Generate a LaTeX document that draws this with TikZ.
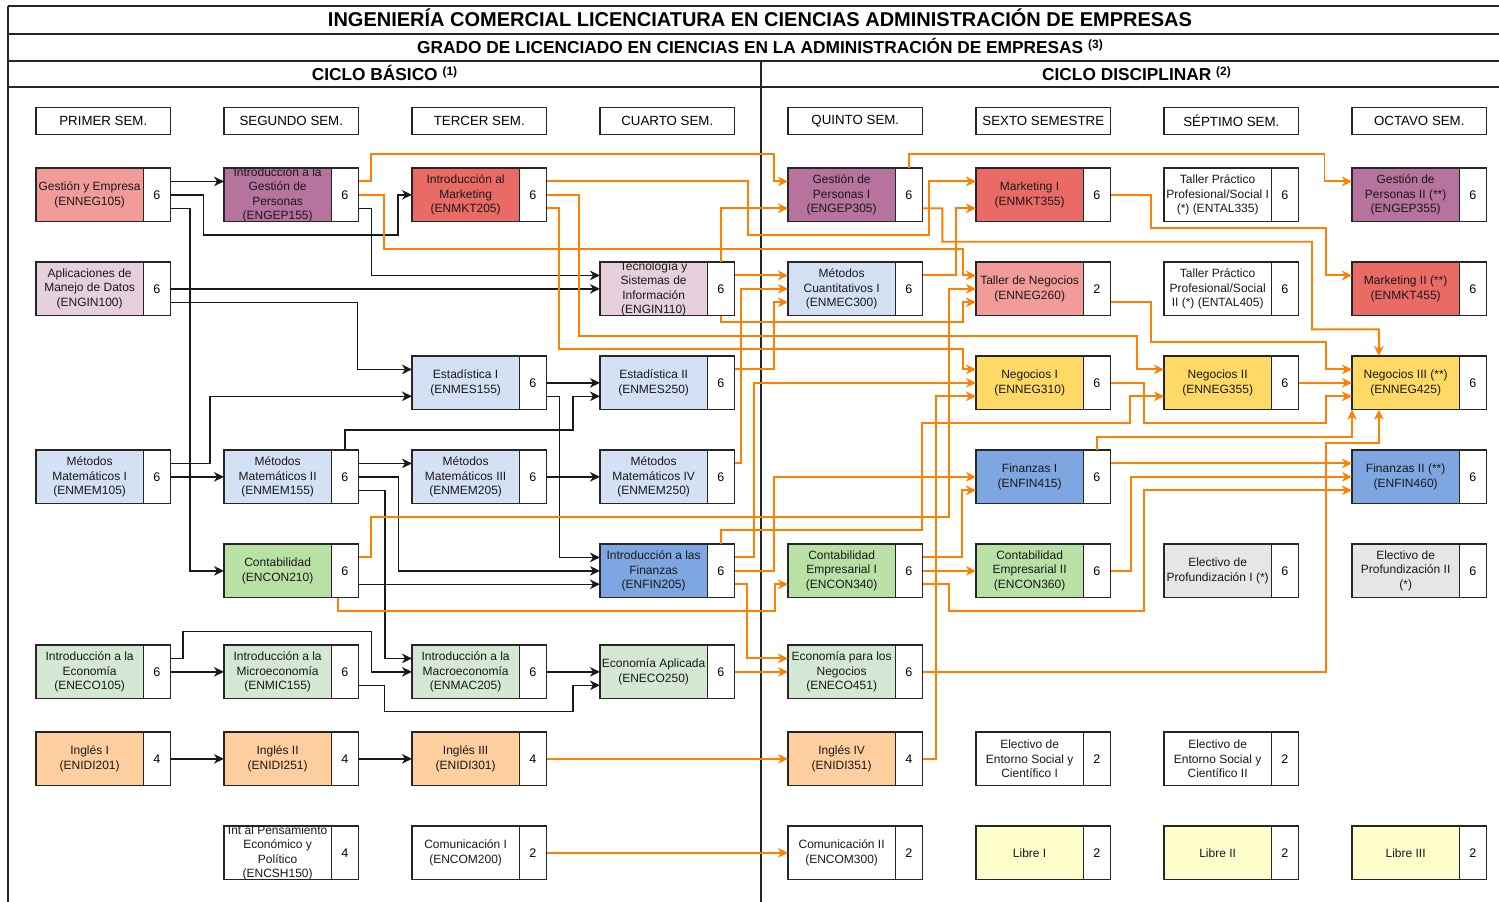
\documentclass[tikz,border=0pt]{standalone}
\usepackage{fontspec}
\setmainfont{Liberation Sans}
\usetikzlibrary{arrows.meta}
\definecolor{cNEG}{HTML}{F19C99}
\definecolor{cGEP}{HTML}{B5739D}
\definecolor{cMKT}{HTML}{EA6B66}
\definecolor{cGIN}{HTML}{E6D0DE}
\definecolor{cMAT}{HTML}{D4E1F5}
\definecolor{cFIN}{HTML}{7EA6E0}
\definecolor{cCON}{HTML}{B9E0A5}
\definecolor{cECO}{HTML}{D5E8D4}
\definecolor{cIDI}{HTML}{FFCE9F}
\definecolor{cNGY}{HTML}{FFD966}
\definecolor{cLIB}{HTML}{FFFFCC}
\definecolor{cELE}{HTML}{E6E6E6}
\definecolor{orgc}{HTML}{FF8000}
\definecolor{lnc}{HTML}{262626}
\tikzset{
  cbox/.style={draw=lnc, line width=1.3pt, minimum width=107.3pt, minimum height=53.7pt, inner sep=0pt, outer sep=0pt, anchor=north west},
  cred/.style={draw=lnc, line width=1.3pt, fill=white, minimum width=27.3pt, minimum height=53.7pt, inner sep=0pt, outer sep=0pt, anchor=north west, font=\fontsize{12.5}{14}\selectfont},
  ctxt/.style={align=center, inner sep=0pt, font=\fontsize{12}{14.3}\selectfont, text=black!90},
  semhead/.style={draw=lnc, line width=1.3pt, minimum width=134.6pt, minimum height=27.4pt, inner sep=0pt, outer sep=0pt, anchor=north west, font=\fontsize{13.3}{15}\selectfont},
  frame/.style={draw=lnc, line width=1.7pt},
  blk/.style={draw=black!90, line width=1.5pt, -{Stealth[length=10pt,width=9.5pt,inset=3pt]}},
  org/.style={draw=orgc, line width=1.9pt, -{Stealth[length=10pt,width=9.5pt,inset=3pt]}},
  ttl/.style={anchor=base, inner sep=0pt, font=\bfseries},
}
\newcommand\crs[6]{%
  \node[cbox, fill=#4] (#1) at (#2,#3) {};
  \node[ctxt] (#1t) at (#1.center) {#5};
  \node[cred] (#1c) at (#1.north east) {#6};
  \coordinate (#1oU) at ([yshift=13.43pt]#1c.east);
  \coordinate (#1oD) at ([yshift=-13.43pt]#1c.east);
  \coordinate (#1iU) at ([yshift=13.43pt]#1.west);
  \coordinate (#1iD) at ([yshift=-13.43pt]#1.west);
}
\newcommand\supr[1]{\raisebox{5pt}{\fontsize{12}{12}\selectfont (#1)}}
\begin{document}
\begin{tikzpicture}[x=1pt, y=-1pt]
\useasboundingbox (0,0) rectangle (1499,902);
\clip (0,0) rectangle (1499,902);
\fill[white] (0,0) rectangle (1499,902);
% frame
\draw[frame] (8,6) -- (1512,6);
\draw[frame] (8,33.7) -- (1512,33.7);
\draw[frame] (8,60.7) -- (1512,60.7);
\draw[frame] (8,87.3) -- (1512,87.3);
\draw[frame] (8,6) -- (8,912);
\draw[frame] (761,60.7) -- (761,912);
\node[ttl, font=\bfseries\fontsize{20}{22}\selectfont] (title) at (760,27) {INGENIERÍA COMERCIAL LICENCIATURA EN CIENCIAS ADMINISTRACIÓN DE EMPRESAS};
\node[ttl, font=\bfseries\fontsize{17.3}{19}\selectfont] (grado) at (760,53.6) {GRADO DE LICENCIADO EN CIENCIAS EN LA ADMINISTRACIÓN DE EMPRESAS \supr{3}};
\node[ttl, font=\bfseries\fontsize{17.3}{19}\selectfont] (basico) at (384.5,80.3) {CICLO BÁSICO \supr{1}};
\node[ttl, font=\bfseries\fontsize{17.3}{19}\selectfont] (discip) at (1136.5,80.3) {CICLO DISCIPLINAR \supr{2}};
% semester headers
\node[semhead] (s1) at (36,107.3) {PRIMER SEM.};
\node[semhead] (s2) at (224,107.3) {SEGUNDO SEM.};
\node[semhead] (s3) at (412,107.3) {TERCER SEM.};
\node[semhead] (s4) at (600,107.3) {CUARTO SEM.};
\node[semhead] (s5) at (788,107.3) {QUINTO SEM.};
\node[semhead] (s6) at (976,107.3) {SEXTO SEMESTRE};
\node[semhead] (s7) at (1164,107.3) {SÉPTIMO SEM.};
\node[semhead] (s8) at (1352,107.3) {OCTAVO SEM.};
% column 1
\crs{neg105}{36}{168}{cNEG}{Gestión y Empresa\\(ENNEG105)}{6}
\crs{gin100}{36}{262}{cGIN}{Aplicaciones de\\Manejo de Datos\\(ENGIN100)}{6}
\crs{mem105}{36}{450}{cMAT}{Métodos\\Matemáticos I\\(ENMEM105)}{6}
\crs{eco105}{36}{645}{cECO}{Introducción a la\\Economía\\(ENECO105)}{6}
\crs{idi201}{36}{732}{cIDI}{Inglés I\\(ENIDI201)}{4}
% column 2
\crs{gep155}{224}{168}{cGEP}{Introducción a la\\Gestión de\\Personas\\(ENGEP155)}{6}
\crs{mem155}{224}{450}{cMAT}{Métodos\\Matemáticos II\\(ENMEM155)}{6}
\crs{con210}{224}{544}{cCON}{Contabilidad\\(ENCON210)}{6}
\crs{mic155}{224}{645}{cECO}{Introducción a la\\Microeconomía\\(ENMIC155)}{6}
\crs{idi251}{224}{732}{cIDI}{Inglés II\\(ENIDI251)}{4}
\crs{csh150}{224}{826}{white}{Int al Pensamiento\\Económico y\\Político\\(ENCSH150)}{4}
% column 3
\crs{mkt205}{412}{168}{cMKT}{Introducción al\\Marketing\\(ENMKT205)}{6}
\crs{mes155}{412}{356}{cMAT}{Estadística I\\(ENMES155)}{6}
\crs{mem205}{412}{450}{cMAT}{Métodos\\Matemáticos III\\(ENMEM205)}{6}
\crs{mac205}{412}{645}{cECO}{Introducción a la\\Macroeconomía\\(ENMAC205)}{6}
\crs{idi301}{412}{732}{cIDI}{Inglés III\\(ENIDI301)}{4}
\crs{com200}{412}{826}{white}{Comunicación I\\(ENCOM200)}{2}
% column 4
\crs{gin110}{600}{262}{cGIN}{Tecnología y\\Sistemas de\\Información\\(ENGIN110)}{6}
\crs{mes250}{600}{356}{cMAT}{Estadística II\\(ENMES250)}{6}
\crs{mem250}{600}{450}{cMAT}{Métodos\\Matemáticos IV\\(ENMEM250)}{6}
\crs{fin205}{600}{544}{cFIN}{Introducción a las\\Finanzas\\(ENFIN205)}{6}
\crs{eco250}{600}{645}{cECO}{Economía Aplicada\\(ENECO250)}{6}
% column 5
\crs{gep305}{788}{168}{cGEP}{Gestión de\\Personas I\\(ENGEP305)}{6}
\crs{mec300}{788}{262}{cMAT}{Métodos\\Cuantitativos I\\(ENMEC300)}{6}
\crs{con340}{788}{544}{cCON}{Contabilidad\\Empresarial I\\(ENCON340)}{6}
\crs{eco451}{788}{645}{cECO}{Economía para los\\Negocios\\(ENECO451)}{6}
\crs{idi351}{788}{732}{cIDI}{Inglés IV\\(ENIDI351)}{4}
\crs{com300}{788}{826}{white}{Comunicación II\\(ENCOM300)}{2}
% column 6
\crs{mkt355}{976}{168}{cMKT}{Marketing I\\(ENMKT355)}{6}
\crs{neg260}{976}{262}{cNEG}{Taller de Negocios\\(ENNEG260)}{2}
\crs{neg310}{976}{356}{cNGY}{Negocios I\\(ENNEG310)}{6}
\crs{fin415}{976}{450}{cFIN}{Finanzas I\\(ENFIN415)}{6}
\crs{con360}{976}{544}{cCON}{Contabilidad\\Empresarial II\\(ENCON360)}{6}
\crs{ees1}{976}{732}{white}{Electivo de\\Entorno Social y\\Científico I}{2}
\crs{libre1}{976}{826}{cLIB}{Libre I}{2}
% column 7
\crs{tal335}{1164}{168}{white}{Taller Práctico\\Profesional/Social I\\(*) (ENTAL335)}{6}
\crs{tal405}{1164}{262}{white}{Taller Práctico\\Profesional/Social\\II (*) (ENTAL405)}{6}
\crs{neg355}{1164}{356}{cNGY}{Negocios II\\(ENNEG355)}{6}
\crs{ep1}{1164}{544}{cELE}{Electivo de\\Profundización I (*)}{6}
\crs{ees2}{1164}{732}{white}{Electivo de\\Entorno Social y\\Científico II}{2}
\crs{libre2}{1164}{826}{cLIB}{Libre II}{2}
% column 8
\crs{gep355}{1352}{168}{cGEP}{Gestión de\\Personas II (**)\\(ENGEP355)}{6}
\crs{mkt455}{1352}{262}{cMKT}{Marketing II (**)\\(ENMKT455)}{6}
\crs{neg425}{1352}{356}{cNGY}{Negocios III (**)\\(ENNEG425)}{6}
\crs{fin460}{1352}{450}{cFIN}{Finanzas II (**)\\(ENFIN460)}{6}
\crs{ep2}{1352}{544}{cELE}{Electivo de\\Profundización II\\(*)}{6}
\crs{libre3}{1352}{826}{cLIB}{Libre III}{2}
% ---------- black connectors
\draw[blk] (neg105oU) -- (gep155iU);
\draw[blk] (neg105c.east) -| (203.6,235) -| (398,210) |- (mkt205.west);
\draw[blk] (neg105oD) -| (190,400) |- (con210.west);
\draw[blk] (gep155oD) -| (371.3,240) |- (gin110iU);
\draw[blk] (gin100c.east) -- (gin110.west);
\draw[blk] (gin100oD) -| (357.7,330) |- (mes155iU);
\draw[blk] (mem105oU) -| (210,420) |- (mes155iD);
\draw[blk] (mem105c.east) -- (mem155.west);
\draw[blk] (mem155c.north) |- (573,430) |- (mes250iD);
\draw[blk] (mem155oU) -- (mem205iU);
\draw[blk] (mem155c.east) -| (398.3,520) |- (fin205.west);
\draw[blk] (mem155oD) -| (384.8,600) |- (mac205iU);
\draw[blk] (mes155c.east) -- (mes250.west);
\draw[blk] (mes155oD) -| (559.3,480) |- (fin205iU);
\draw[blk] (mem205c.east) -- (mem250.west);
\draw[blk] (con210oD) -- (fin205iD);
\draw[blk] (eco105oU) -| (183.2,631.7) -| (371.3,660) |- (mac205.west);
\draw[blk] (eco105c.east) -- (mic155.west);
\draw[blk] (mic155oD) -| (384.4,711.7) -| (573,700) |- (eco250iD);
\draw[blk] (mac205c.east) -- (eco250.west);
\draw[blk] (idi201c.east) -- (idi251.west);
\draw[blk] (idi251c.east) -- (idi301.west);
% ---------- orange connectors
\draw[org] (gep155oU) -| (371.3,154.3) -| (774.3,170) |- (gep305iU);
\draw[org] (gep155c.east) -| (384.3,248.7) -| (962.7,260) |- (neg260iU);
\draw[org] (mkt205oU) -| (747.7,235) -| (929.3,200) |- (mkt355iU);
\draw[org] (mkt205c.east) -| (579.3,336) -| (1136.7,350) |- (neg355iU);
\draw[org] (mkt205oD) -| (559.3,349.3) -| (962.7,360) |- (neg310iU);
\draw[org] (gin110c.north) |- (gep305iD);
\draw[org] (gin110oU) -- (mec300iU);
\draw[org] (gin110c.south) |- (962.7,321.7) |- (neg260iD);
\draw[org] (mes250oU) -| (774.3,330) |- (mec300iD);
\draw[org] (mem250oU) -| (740.7,400) |- (mec300.west);
\draw[org] (fin205oU) -| (754,450) |- (neg310.west);
\draw[org] (fin205c.east) -| (774.3,520) |- (fin415.west);
\draw[org] (fin205oD) -| (746.7,620) |- (eco451iU);
\draw[org] (fin205c.north) |- (922.3,530.3) |- (1130,423.3) |- (neg355iD);
\draw[org] (con210oU) -| (371.3,517.3) -| (949.3,400) |- (neg260.west);
\draw[org] ([xshift=-6.8pt]con210c.south) |- (775,611) |- (con340iD);
\draw[org] (eco250c.east) -- (eco451.west);
\draw[org] (idi301c.east) -- (idi351.west);
\draw[org] (com200c.east) -- (com300.west);
\draw[org] (gep305c.north) |- (1324.5,154.3) |- (gep355iU);
\draw[org] (gep305oD) -| (942.3,241.7) -| (1312,300) |- (1378.85,329.3) -- ([xshift=-26.8pt]neg425.north);
\draw[org] (mec300oU) -| (955.7,240) |- (mkt355iD);
\draw[org] (mkt355c.east) -| (1150.7,228.3) -| (1325.7,250) |- (mkt455iU);
\draw[org] (neg260oD) -| (1150.7,342.3) -| (1325.7,350) |- (neg425iU);
\draw[org] (neg310c.east) -| (1144,423.3) -| (1325.7,410) |- (neg425iD);
\draw[org] (neg355c.east) -- (neg425.west);
\draw[org] (idi351c.east) -| (935.7,600) |- (neg310iD);
\draw[org] (fin415c.north) |- (1352,436.7) -- (neg425.south west);
\draw[org] (eco451c.east) -| (1325.7,443.3) -| ([xshift=-26.8pt]neg425.south);
\draw[org] (fin415oU) -- (fin460iU);
\draw[org] (con340oU) -| (962,520) |- (fin415iD);
\draw[org] (con340c.east) -- (con360.west);
\draw[org] (con340oD) -| (949.3,611) -| (1144.4,550) |- (fin460iD);
\draw[org] (con360c.east) -| (1131,520) |- (fin460.west);
\end{tikzpicture}
\end{document}
